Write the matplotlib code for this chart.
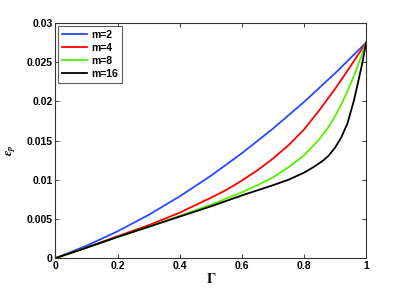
#!/usr/bin/env python3
"""epsilon_p vs Gamma for several m (MATLAB-style figure)."""

import matplotlib

matplotlib.use("Agg")
import matplotlib.pyplot as plt

plt.rcParams["font.family"] = ["Liberation Sans", "DejaVu Sans"]
plt.rcParams["font.weight"] = "bold"
plt.rcParams["mathtext.fontset"] = "stix"

# values
gamma_m2 = [0.0, 0.1, 0.2, 0.3, 0.4, 0.5, 0.6, 0.7, 0.8, 0.9, 1.0]
eps_m2 = [0.0, 0.00158, 0.00342, 0.00552, 0.00788, 0.0105, 0.01338,
          0.01652, 0.01992, 0.02358, 0.0275]

gamma_m4 = [0.0, 0.1, 0.2, 0.3, 0.4, 0.5, 0.55, 0.6, 0.65, 0.7, 0.75, 0.8,
            0.85, 0.9, 0.95, 1.0]
eps_m4 = [0.0, 0.00135, 0.0028, 0.0042, 0.0058, 0.0077, 0.0087, 0.0099,
          0.0112, 0.0127, 0.0144, 0.0164, 0.0189, 0.0216, 0.0245, 0.0275]

gamma_m8 = [0.0, 0.1, 0.2, 0.3, 0.4, 0.5, 0.6, 0.65, 0.7, 0.75, 0.8, 0.85,
            0.88, 0.9, 0.92, 0.94, 0.96, 0.98, 1.0]
eps_m8 = [0.0, 0.00133, 0.0027, 0.0040, 0.0054, 0.0068, 0.0084, 0.0093,
          0.0103, 0.0116, 0.0131, 0.0152, 0.0168, 0.0181, 0.0196, 0.0213,
          0.0232, 0.0253, 0.0275]

gamma_m16 = [0.0, 0.1, 0.2, 0.3, 0.4, 0.5, 0.6, 0.7, 0.75, 0.8, 0.83, 0.86,
             0.88, 0.9, 0.92, 0.94, 0.96, 0.975, 0.985, 0.993, 1.0]
eps_m16 = [0.0, 0.00133, 0.0027, 0.0040, 0.0053, 0.0066, 0.0080, 0.0093,
           0.0100, 0.0109, 0.0116, 0.0124, 0.0131, 0.0141, 0.0154, 0.0172,
           0.0200, 0.0226, 0.0244, 0.0260, 0.0275]

labels = ["m=2", "m=4", "m=8", "m=16"]
colors = ["#2a48ff", "#ff0000", "#55ee00", "#000000"]

x_ticks = [0, 0.2, 0.4, 0.6, 0.8, 1]
x_ticklabels = ["0", "0.2", "0.4", "0.6", "0.8", "1"]
y_ticks = [0, 0.005, 0.01, 0.015, 0.02, 0.025, 0.03]
y_ticklabels = ["0", "0.005", "0.01", "0.015", "0.02", "0.025", "0.03"]

fig = plt.figure(figsize=(4.05, 2.91), dpi=100)
ax = fig.add_axes([0.137, 0.113, 0.767, 0.808])

series = [(gamma_m2, eps_m2), (gamma_m4, eps_m4),
          (gamma_m8, eps_m8), (gamma_m16, eps_m16)]
for (gx, gy), lab, col in zip(series, labels, colors):
    ax.plot(gx, gy, color=col, linewidth=1.3, label=lab)

ax.set_xlim(0, 1)
ax.set_ylim(0, 0.03)
ax.set_xticks(x_ticks)
ax.set_xticklabels(x_ticklabels, fontweight="bold")
ax.set_yticks(y_ticks)
ax.set_yticklabels(y_ticklabels, fontweight="bold")
ax.tick_params(direction="in", length=3, width=0.6, labelsize=7.5,
               top=True, right=True, pad=2, colors="#222222",
               labelcolor="black")
for sp in ax.spines.values():
    sp.set_linewidth(0.8)
    sp.set_color("#333333")

ax.set_xlabel(r"$\Gamma$", fontsize=10, labelpad=1)
ax.set_ylabel(r"$\epsilon_p$", fontsize=9)
ax.yaxis.set_label_coords(-0.12, 0.46)

leg = ax.legend(loc="upper left", prop={"size": 7.5, "weight": "bold"},
                frameon=True, fancybox=False, handlelength=2.4,
                handletextpad=0.4, borderpad=0.4, labelspacing=0.3,
                borderaxespad=0.25)
leg.get_frame().set_edgecolor("#333333")
leg.get_frame().set_linewidth(0.8)

fig.savefig("out.png", dpi=100)
